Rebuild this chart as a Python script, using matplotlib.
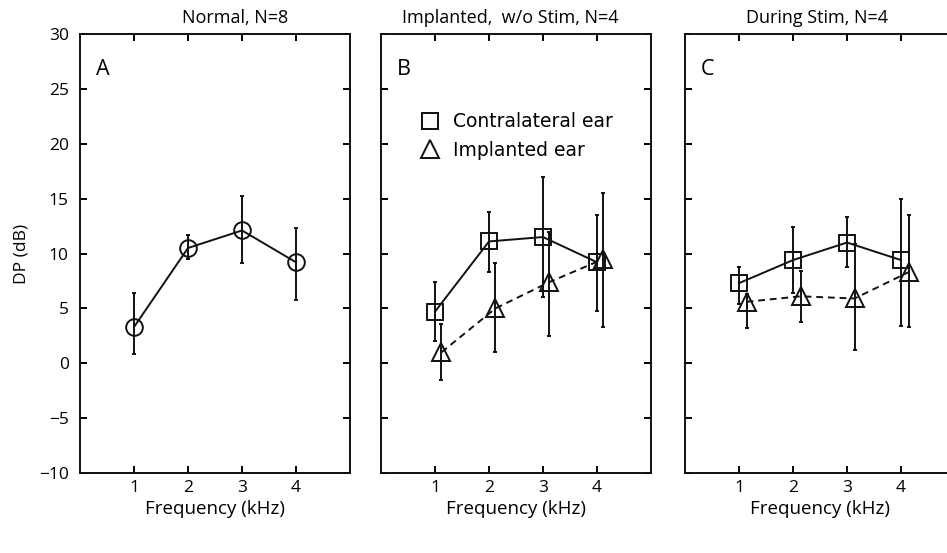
from matplotlib import pyplot as plt
from matplotlib.lines import Line2D
import numpy as np

plt.rcParams['font.family'] = ['Open Sans', 'DejaVu Sans']
plt.rcParams['font.size'] = 12.5

freq = [1, 2, 3, 4]
freq_labels = ['1', '2', '3', '4']

# panel A - normal
normal_dp = [3.3, 10.5, 12.1, 9.2]
normal_hi = [6.4, 11.7, 15.2, 12.3]
normal_lo = [0.8, 9.5, 9.1, 5.8]

# panel B - implanted, without stim
b_contra_dp = [4.7, 11.1, 11.5, 9.2]
b_contra_hi = [7.4, 13.8, 17.0, 13.5]
b_contra_lo = [2.0, 8.3, 6.0, 4.8]
b_impl_dp = [1.0, 5.0, 7.4, 9.5]
b_impl_hi = [3.6, 9.1, 12.0, 15.5]
b_impl_lo = [-1.5, 1.0, 2.5, 3.3]

# panel C - during stim
c_contra_dp = [7.3, 9.4, 11.0, 9.4]
c_contra_hi = [8.8, 12.4, 13.3, 15.0]
c_contra_lo = [5.4, 6.4, 8.8, 3.4]
c_impl_dp = [5.6, 6.1, 5.9, 8.3]
c_impl_hi = [6.3, 8.4, 10.9, 13.5]
c_impl_lo = [3.2, 3.8, 1.2, 3.3]

titles = ['Normal, N=8', 'Implanted,  w/o Stim, N=4', 'During Stim, N=4']
letters = ['A', 'B', 'C']

fig = plt.figure(figsize=(9.47, 5.53), dpi=100)
lefts = [80, 381, 685]
axes = []
for l in lefts:
    axes.append(fig.add_axes([l / 947, 80 / 553, 270 / 947, 439 / 553]))

lw = 1.4
col = '#111111'


def err_plot(ax, x, y, lo, hi, marker, ms, ls):
    y = np.array(y)
    yerr = [y - np.array(lo), np.array(hi) - y]
    ax.errorbar(x, y, yerr=yerr, fmt='none', ecolor=col, elinewidth=lw,
                capsize=1.5, capthick=lw)
    ax.plot(x, y, color=col, lw=lw, linestyle=ls, dashes=(3.5, 2.5) if ls == '--' else (None, None),
            marker=marker, ms=ms, mfc='none', mec=col, mew=lw)


x = np.array(freq, dtype=float)
err_plot(axes[0], x, normal_dp, normal_lo, normal_hi, 'o', 12, '-')
err_plot(axes[1], x, b_contra_dp, b_contra_lo, b_contra_hi, 's', 12, '-')
err_plot(axes[1], x + 0.12, b_impl_dp, b_impl_lo, b_impl_hi, '^', 13, '--')
err_plot(axes[2], x, c_contra_dp, c_contra_lo, c_contra_hi, 's', 12, '-')
err_plot(axes[2], x + 0.14, c_impl_dp, c_impl_lo, c_impl_hi, '^', 13, '--')

title_x = [0.576, 0.478, 0.49]
for i, ax in enumerate(axes):
    ax.set_xlim(0, 5)
    ax.set_ylim(-10, 30)
    ax.set_xticks(freq)
    ax.set_xticklabels(freq_labels)
    ax.set_yticks(np.arange(-10, 31, 5))
    ax.tick_params(direction='in', length=5, width=lw, top=True, right=True,
                   labelsize=12.5, pad=5)
    ax.tick_params(axis='y', pad=8)
    if i > 0:
        ax.set_yticklabels([])
    for s in ax.spines.values():
        s.set_linewidth(lw)
        s.set_color(col)
    ax.set_xlabel('Frequency (kHz)', fontsize=13.5, labelpad=3)
    ax.text(title_x[i], 1.015, titles[i], transform=ax.transAxes,
            ha='center', va='bottom', fontsize=13)
    ax.text(0.06, 0.92, letters[i], transform=ax.transAxes,
            ha='left', va='center', fontsize=15.5)

axes[0].set_ylabel('DP (dB)', fontsize=12.5, labelpad=7)

yt = axes[0].get_yticks()
axes[0].set_yticklabels([('\u2212' + str(int(-v))) if v < 0 else str(int(v)) for v in yt])

handles = [Line2D([], [], ls='none', marker='s', ms=12, mfc='none', mec=col, mew=lw),
           Line2D([], [], ls='none', marker='^', ms=13, mfc='none', mec=col, mew=lw)]
axes[1].legend(handles, ['Contralateral ear', 'Implanted ear'], loc='upper left',
               bbox_to_anchor=(0.085, 0.86), frameon=False,
               prop={'family': 'DejaVu Sans', 'size': 13.5},
               handlelength=1.0, handletextpad=0.7, labelspacing=0.5)

plt.savefig('out.png', dpi=100)
